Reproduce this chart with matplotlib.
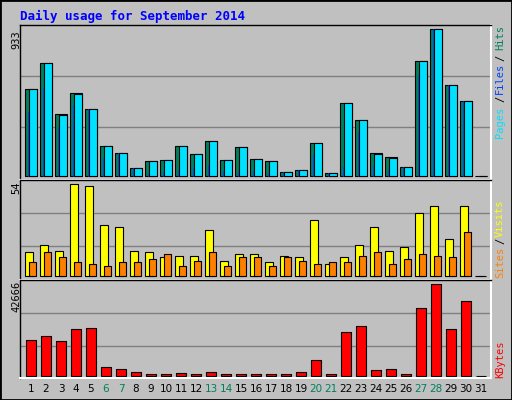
import matplotlib
matplotlib.use("Agg")
import matplotlib.pyplot as plt
from matplotlib.patches import Rectangle

days = list(range(1, 32))
hits  = [551,718,395,526,426,192,146,51,95,101,192,139,222,101,186,108,95,25,38,209,19,462,355,146,120,57,728,933,576,475,0]
files = [407,557,312,450,426,116,146,51,21,27,38,51,70,32,32,32,21,25,38,135,19,59,281,65,40,57,640,933,576,475,0]
pages = [551,718,386,519,426,192,146,51,95,101,192,139,222,101,186,108,95,25,38,209,19,462,355,139,114,57,728,933,576,475,0]
visits = [14,18,15,54,53,30,29,15,14,11,12,12,27,9,13,13,8,12,11,33,7,11,18,29,15,17,37,41,22,41,0]
sites  = [8,14,11,8,7,6,8,8,10,13,6,9,14,6,11,11,6,11,9,7,8,8,12,14,7,10,13,12,11,26,0]
kbytes = [16506,18374,16039,21645,22112,3893,2959,1557,623,623,1090,623,1557,623,623,623,623,623,1557,7163,623,20243,23046,2491,2959,623,31455,42666,21645,34725,0]
weekend = [6,7,13,14,20,21,27,28]

W, H = 512, 400
BG = "#C0C0C0"
fig = plt.figure(figsize=(W/100, H/100), dpi=100, facecolor=BG)
fig.patches.append(Rectangle((0, 0), 1, 1, transform=fig.transFigure, fill=False,
                             edgecolor="black", linewidth=2))
FONT = "DejaVu Sans Mono"

def ax_px(x0, y0, x1, y1):
    return fig.add_axes([x0/W, 1-y1/H, (x1-x0)/W, (y1-y0)/H])

XL = (1-11/15, 1-11/15+31.4)

def style(ax, lo, hi):
    ax.set_facecolor(BG)
    ax.set_xlim(*XL)
    ax.set_ylim(lo, hi)
    ax.set_xticks([]); ax.set_yticks([])
    for s in ["top", "left"]:
        ax.spines[s].set_color("black"); ax.spines[s].set_linewidth(1)
    for s in ["bottom", "right"]:
        ax.spines[s].set_color("white"); ax.spines[s].set_linewidth(1.5)

kw = dict(edgecolor="black", linewidth=0.8, align="edge")

# top panel
ax1 = ax_px(20, 25, 491, 180)
u = 933/147
style(ax1, -4*u, 933+4*u)
for g in [311, 635]:
    ax1.axhline(g, color="#808080", lw=1, zorder=0)
ax1.bar([d-0.4 for d in days], hits, width=0.8, color="#00805C", **kw)
ax1.bar([d-0.2 for d in days], files, width=0.07, color="#0040FF", edgecolor="#0040FF", linewidth=0.5, align="edge")
ax1.bar([d-0.13 for d in days], pages, width=0.53, color="#00E0FF", **kw)

# middle panel
ax2 = ax_px(20, 180, 491, 280)
u = 54/91.7
style(ax2, -4*u, 54+4.3*u)
for g in [17.7, 37]:
    ax2.axhline(g, color="#808080", lw=1, zorder=0)
ax2.bar([d-0.4 for d in days], visits, width=0.53, color="#FFFF00", **kw)
ax2.bar([d-0.13 for d in days], sites, width=0.46, color="#FF8000", **kw)

# bottom panel
ax3 = ax_px(20, 280, 491, 378)
u = 42666/91.4
style(ax3, -2.3*u, 42666+4.3*u)
for g in [13865, 29130]:
    ax3.axhline(g, color="#808080", lw=1, zorder=0)
ax3.bar([d-0.33 for d in days], kbytes, width=0.66, color="#FF0000", **kw)

# texts
fig.text(20/W, 1-16/H, "Daily usage for September 2014", color="#0000FF", fontsize=9,
         fontweight="bold", family=FONT, va="center", ha="left")
for d in days:
    xpix = 20 + (d - XL[0]) * 471/31.4
    fig.text(xpix/W, 1-389/H, str(d), fontsize=7.5, family="DejaVu Sans",
             color="#00805C" if d in weekend else "black", ha="center", va="center")

def vtext(x, y, s, c):
    fig.text(x/W, 1-y/H, s, rotation=90, color=c, fontsize=7.5, family=FONT,
             ha="center", va="center")

vtext(16, 40, "933", "black")
vtext(16, 188, "54", "black")
vtext(16, 296, "42666", "black")
vtext(500, 122, "Pages", "#00E0FF")
vtext(500, 99, "/", "black")
vtext(500, 78, "Files", "#0040FF")
vtext(500, 58, "/", "black")
vtext(500, 38, "Hits", "#00805C")
vtext(500, 262, "Sites", "#FF8000")
vtext(500, 241, "/", "black")
vtext(500, 218, "Visits", "#FFFF00")
vtext(500, 359, "KBytes", "#FF0000")

fig.savefig("out.png", dpi=100, facecolor=BG)
